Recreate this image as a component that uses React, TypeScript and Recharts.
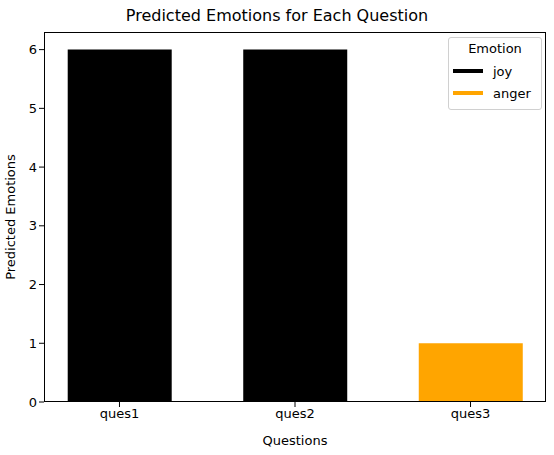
import React from "react"
import { BarChart, Bar, XAxis, YAxis, Cell } from "recharts"

const questions = ["ques1", "ques2", "ques3"]
const counts = [6, 6, 1]
const emotions = ["joy", "joy", "anger"]
const emotionColors: Record<string, string> = { joy: "#000000", anger: "#ffa500" }
const legendItems = ["joy", "anger"]
const yTicks = [0, 1, 2, 3, 4, 5, 6]

const data = questions.map((q, i) => ({ x: i, name: q, value: counts[i], emotion: emotions[i] }))

const font = "DejaVu Sans, sans-serif"

export default function App() {
	return (
		<div style={{ position: "absolute", left: 0, top: 0, width: 554, height: 455, background: "#fff", fontFamily: font }}>
			<div style={{ position: "absolute", left: 0, width: 554, top: 6, textAlign: "center", fontSize: 16, color: "#000" }}>
				Predicted Emotions for Each Question
			</div>
			<BarChart width={554} height={455} data={data} margin={{ top: 32, right: 8, left: 0, bottom: 0 }}>
				<XAxis
					dataKey="x"
					type="number"
					domain={[-0.43, 2.43]}
					ticks={[0, 1, 2]}
					tickFormatter={(v: number) => questions[v]}
					height={53}
					axisLine={false}
					tickLine={{ stroke: "#000" }}
					tickSize={5}
					tick={{ fill: "#000", fontSize: 13, fontFamily: font }}
					label={{ value: "Questions", position: "insideBottom", offset: 10, fill: "#000", fontSize: 13, fontFamily: font }}
				/>
				<YAxis
					domain={[0, 6.3]}
					ticks={yTicks}
					width={44}
					axisLine={false}
					tickLine={{ stroke: "#000" }}
					tickSize={5}
					tick={{ fill: "#000", fontSize: 13, fontFamily: font }}
					label={{ value: "Predicted Emotions", angle: -90, position: "insideLeft", offset: 10, fill: "#000", fontSize: 13, fontFamily: font, style: { textAnchor: "middle" } }}
				/>
				<Bar dataKey="value" barSize={104} isAnimationActive={false}>
					{data.map((d) => (
						<Cell key={d.name} fill={emotionColors[d.emotion]} />
					))}
				</Bar>
			</BarChart>
			<div style={{ position: "absolute", left: 44, top: 32, width: 502, height: 370, border: "1px solid #000", boxSizing: "border-box", pointerEvents: "none" }} />
			<div style={{ position: "absolute", left: 448, top: 37, width: 92, border: "1px solid #d0d0d0", borderRadius: 3, background: "rgba(255,255,255,0.8)", padding: "3px 0 5px", fontSize: 13, color: "#000" }}>
				<div style={{ textAlign: "center", marginBottom: 4 }}>Emotion</div>
				{legendItems.map((e) => (
					<div key={e} style={{ display: "flex", alignItems: "center", height: 22 }}>
						<div style={{ width: 30, height: 4, background: emotionColors[e], marginLeft: 4, marginRight: 10 }} />
						<span>{e}</span>
					</div>
				))}
			</div>
		</div>
	)
}
